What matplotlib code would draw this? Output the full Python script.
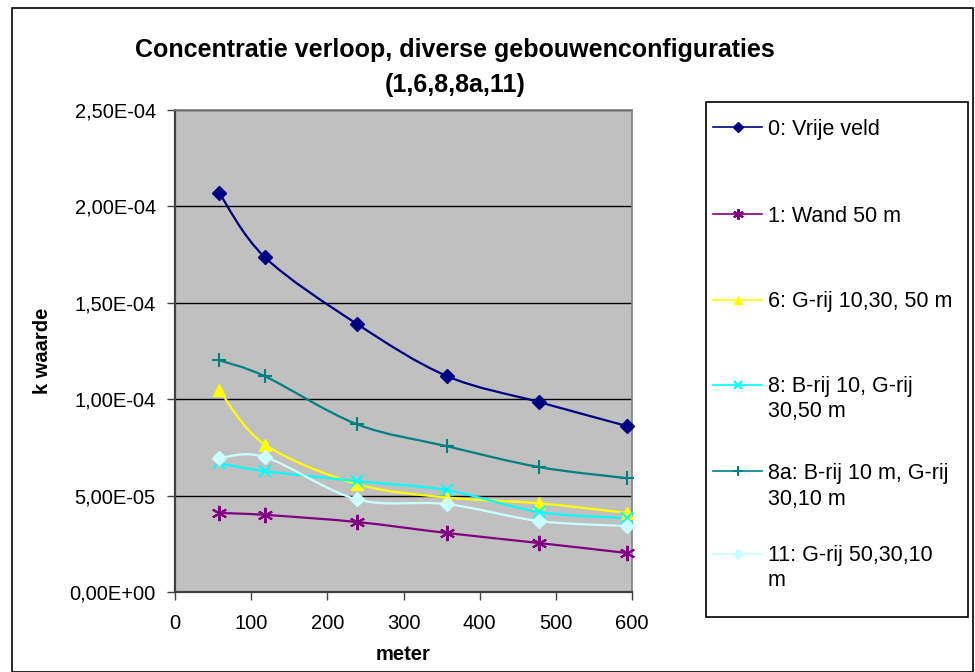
import numpy as np
import matplotlib
matplotlib.use('Agg')
import matplotlib.pyplot as plt
from matplotlib.path import Path
from matplotlib.patches import PathPatch, Rectangle
from matplotlib.lines import Line2D

plt.rcParams['font.family'] = ['Liberation Sans', 'DejaVu Sans']

# afstand (meter) per meetpunt
meter = [58, 118, 239, 357, 478, 594]

# k waarde per configuratie
k_vrij = [2.07e-4, 1.736e-4, 1.39e-4, 1.12e-4, 0.985e-4, 0.86e-4]
k_wand = [0.41e-4, 0.40e-4, 0.363e-4, 0.306e-4, 0.254e-4, 0.202e-4]
k_6 = [1.047e-4, 0.765e-4, 0.56e-4, 0.49e-4, 0.46e-4, 0.41e-4]
k_8 = [0.668e-4, 0.627e-4, 0.575e-4, 0.528e-4, 0.415e-4, 0.383e-4]
k_8a = [1.202e-4, 1.119e-4, 0.87e-4, 0.756e-4, 0.648e-4, 0.59e-4]
k_11 = [0.694e-4, 0.70e-4, 0.48e-4, 0.456e-4, 0.368e-4, 0.342e-4]

labels = ['0: Vrije veld', '1: Wand 50 m', '6: G-rij 10,30, 50 m',
          '8: B-rij 10, G-rij\n30,50 m', '8a: B-rij 10 m, G-rij\n30,10 m',
          '11: G-rij 50,30,10\nm']

y_ticks = [0, 5e-5, 1e-4, 1.5e-4, 2e-4, 2.5e-4]
y_ticklabels = ['0,00E+00', '5,00E-05', '1,00E-04', '1,50E-04', '2,00E-04', '2,50E-04']
x_ticks = [0, 100, 200, 300, 400, 500, 600]

series = [k_vrij, k_wand, k_6, k_8, k_8a, k_11]
colors = ['#000080', '#800080', '#FFFF00', '#00FFFF', '#008080', '#CCFFFF']
markers = ['D', (6, 2, 0), '^', 'x', '+', 'D']
msizes = [7, 11, 8, 9, 10, 7]

# legenda: pixel-rijen (vanaf boven) van de eerste en tweede tekstregel
leg_rows = [129, 216, 302, 387, 473, 556]
leg_rows2 = [None, None, None, 412, 499, 581]


def smooth_path(x, y):
    # excel-achtige bezier smoothing
    pts = np.column_stack([x, y])
    n = len(pts)
    verts = [pts[0]]
    codes = [Path.MOVETO]
    for i in range(n - 1):
        p0 = pts[max(i - 1, 0)]
        p1 = pts[i]
        p2 = pts[i + 1]
        p3 = pts[min(i + 2, n - 1)]
        verts += [p1 + (p2 - p0) / 6, p2 - (p3 - p1) / 6, p2]
        codes += [Path.CURVE4] * 3
    return Path(verts, codes)


fig = plt.figure(figsize=(9.75, 6.72), dpi=100)
W, H = 975, 672
ax = fig.add_axes([175 / W, 1 - 592 / H, (632 - 175) / W, (592 - 110) / H])
ax.set_facecolor('#C0C0C0')

handles = []
for vals, c, m, ms in zip(series, colors, markers, msizes):
    ax.add_patch(PathPatch(smooth_path(meter, vals), fill=False, edgecolor=c,
                           lw=1.6, zorder=3))
    mew = 1.5 if m in ('x', '+') or isinstance(m, tuple) else 1
    ax.plot(meter, vals, ls='none', marker=m, ms=ms, color=c, mec=c, mew=mew,
            zorder=4, clip_on=False)
    handles.append(Line2D([], [], color=c, lw=1.2, marker=m, ms=ms * 0.7,
                          mec=c, mew=mew))

ax.set_xlim(0, 600)
ax.set_ylim(0, 2.5e-4)
ax.set_xticks(x_ticks)
ax.set_xticklabels([str(v) for v in x_ticks])
ax.set_yticks(y_ticks)
ax.set_yticklabels(y_ticklabels)
ax.tick_params(labelsize=14.5, length=5.8, width=1, color='#404040', pad=8)
ax.tick_params(axis='x', pad=10)
ax.yaxis.grid(True, color='black', lw=1)
ax.set_axisbelow(True)
for s in ['left', 'bottom']:
    ax.spines[s].set_color('#404040')
    ax.spines[s].set_linewidth(1.6)
for s in ['right', 'top']:
    ax.spines[s].set_color('#808080')
    ax.spines[s].set_linewidth(1.2)

fig.text(455 / W, 1 - 50 / H, 'Concentratie verloop, diverse gebouwenconfiguraties',
         ha='center', va='center', fontsize=18, fontweight='bold')
fig.text(455 / W, 1 - 85 / H, '(1,6,8,8a,11)', ha='center', va='center',
         fontsize=18, fontweight='bold')
fig.text(43 / W, 1 - 351 / H, 'k waarde', rotation=90, ha='center', va='center',
         fontsize=14.5, fontweight='bold')
fig.text(403 / W, 1 - 655 / H, 'meter', ha='center', va='center',
         fontsize=14.5, fontweight='bold')

# legenda in een kader, een regel per reeks
fs = 15.5
fs_px = fs * 100 / 72
fig.patches.append(Rectangle((706 / W, 1 - 617 / H), (968 - 706) / W, (617 - 102) / H,
                             transform=fig.transFigure, facecolor='white',
                             edgecolor='black', lw=1.2, zorder=1))
for h, lab, r1, r2 in zip(handles, labels, leg_rows, leg_rows2):
    lines = lab.split('\n')
    fig.legend([h], [lines[0]], loc='center left',
               bbox_to_anchor=(713 / W, 1 - r1 / H), borderaxespad=0,
               borderpad=0, frameon=False, fontsize=fs,
               handlelength=49 / fs_px, handletextpad=6 / fs_px)
    if r2 is not None:
        fig.text(768 / W, 1 - r2 / H, lines[1], ha='left', va='center', fontsize=fs)

fig.patches.append(Rectangle((12 / W, 0), (973 - 12) / W, 1 - 8 / H,
                             transform=fig.transFigure, fill=False,
                             edgecolor='black', lw=1.2))

fig.savefig('out.png', dpi=100)
